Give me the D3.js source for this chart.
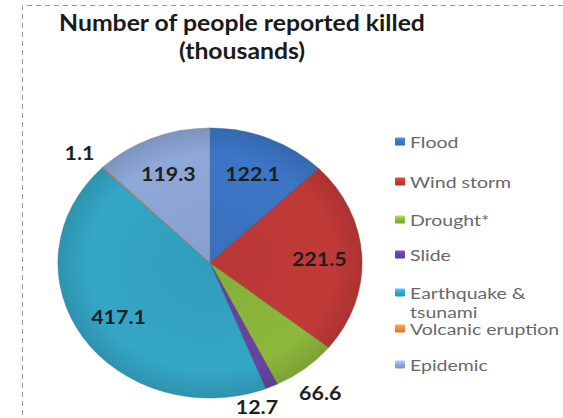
<!DOCTYPE html>
<html>
<head>
<meta charset="utf-8">
<script src="https://cdn.jsdelivr.net/npm/d3@7"></script>
<style>
  html, body { margin: 0; padding: 0; background: #ffffff; }
  svg { display: block; }
</style>
</head>
<body>
<svg id="chart" width="563" height="418"></svg>
<script>
// Deaths reported, in thousands, by disaster type
const categories = ["Flood", "Wind storm", "Drought*", "Slide", "Earthquake & tsunami", "Volcanic eruption", "Epidemic"];
const values = [122.1, 221.5, 66.6, 12.7, 417.1, 1.1, 119.3];
const legendLines = [["Flood"], ["Wind storm"], ["Drought*"], ["Slide"], ["Earthquake &", "tsunami"], ["Volcanic eruption"], ["Epidemic"]];
const colors = ["#3c76c6", "#c23a38", "#8cb83c", "#6844a6", "#34a6c6", "#f08a3a", "#8ea8d8"];
const titleLines = ["Number of people reported killed", "(thousands)"];

const W = 563, H = 418;
const svg = d3.select("#chart");
const cx = 210, cy = 263, r = 135, sx = 152 / 135;   // pie is drawn slightly wide

// dashed frame
svg.append("path")
  .attr("d", `M${W},5.5 H22.5 V${H}`)
  .attr("fill", "none")
  .attr("stroke", "#9a9a9a")
  .attr("stroke-width", 1)
  .attr("stroke-dasharray", "5,4");

// title
titleLines.forEach((t, i) => {
  svg.append("g")
    .attr("transform", `translate(242,${31 + i * 28}) scale(${sx},1)`)
    .append("text")
    .attr("text-anchor", "middle")
    .attr("font-family", "Lato, 'Open Sans', sans-serif")
    .attr("font-weight", "bold")
    .attr("font-size", 22)
    .attr("fill", "#1a1a1a")
    .text(t);
});

// pie
const data = categories.map((c, i) => ({ name: c, value: values[i], color: colors[i] }));
const pie = d3.pie().sort(null).value(d => d.value);
const arcs = pie(data);
const arc = d3.arc().innerRadius(0).outerRadius(r);

const defs = svg.append("defs");
data.forEach((d, i) => {
  const g = defs.append("radialGradient").attr("id", "sl" + i)
    .attr("gradientUnits", "userSpaceOnUse")
    .attr("cx", 0).attr("cy", 0).attr("r", r);
  g.append("stop").attr("offset", "0%").attr("stop-color", d3.color(d.color).darker(0.15));
  g.append("stop").attr("offset", "80%").attr("stop-color", d.color);
  g.append("stop").attr("offset", "100%").attr("stop-color", d3.color(d.color).darker(0.35));
});

const pieG = svg.append("g").attr("transform", `translate(${cx},${cy}) scale(${sx},1)`);
pieG.selectAll("path.slice")
  .data(arcs)
  .join("path")
  .attr("class", "slice")
  .attr("d", arc)
  .attr("fill", (d, i) => `url(#sl${i})`)
  .attr("stroke", (d) => d3.color(d.data.color).darker(0.8))
  .attr("stroke-opacity", 0.45)
  .attr("stroke-width", 1);

// value labels: large slices inside, small slices outside
const inner = d3.arc().innerRadius(r * 0.72).outerRadius(r * 0.72);
const outer = d3.arc().innerRadius(r * 1.17).outerRadius(r * 1.17);
const nudge = { "Slide": [-25, -1], "Drought*": [-1, 6], "Volcanic eruption": [-5, 1] };
arcs.forEach(a => {
  const small = a.data.value / d3.sum(values) < 0.1;
  let [x, y] = (small ? outer : inner).centroid(a);
  x *= sx;
  const n = small && nudge[a.data.name] ? nudge[a.data.name] : [0, 0];
  svg.append("g")
    .attr("transform", `translate(${cx + x + n[0]},${cy + y + n[1]}) scale(${sx},1)`)
    .append("text")
    .attr("text-anchor", "middle")
    .attr("dominant-baseline", "central")
    .attr("font-family", "Lato, 'Open Sans', sans-serif")
    .attr("font-weight", "bold")
    .attr("font-size", 19)
    .attr("fill", "#1e1e1e")
    .text(d3.format(".1f")(a.data.value));
});

// legend
const legendY = [142, 182, 220, 255, 293, 329, 365];
legendLines.forEach((lines, i) => {
  const g = svg.append("g").attr("transform", `translate(395,${legendY[i]})`);
  const sw = defs.append("linearGradient").attr("id", "lg" + i)
    .attr("x1", 0).attr("y1", 0).attr("x2", 0).attr("y2", 1);
  sw.append("stop").attr("offset", "0%").attr("stop-color", d3.color(colors[i]).brighter(0.6));
  sw.append("stop").attr("offset", "50%").attr("stop-color", colors[i]);
  sw.append("stop").attr("offset", "100%").attr("stop-color", d3.color(colors[i]).darker(0.4));
  g.append("rect")
    .attr("x", 0).attr("y", -4.5).attr("width", 10).attr("height", 8)
    .attr("rx", 1)
    .attr("fill", `url(#lg${i})`);
  const t = g.append("g").attr("transform", `translate(15,0) scale(1.3,1)`);
  lines.forEach((ln, j) => {
    t.append("text")
      .attr("y", j * 19)
      .attr("dominant-baseline", "central")
      .attr("font-family", "Lato, 'Open Sans', sans-serif")
      .attr("font-size", 15)
      .attr("fill", "#686868")
      .text(ln);
  });
});
</script>
</body>
</html>
